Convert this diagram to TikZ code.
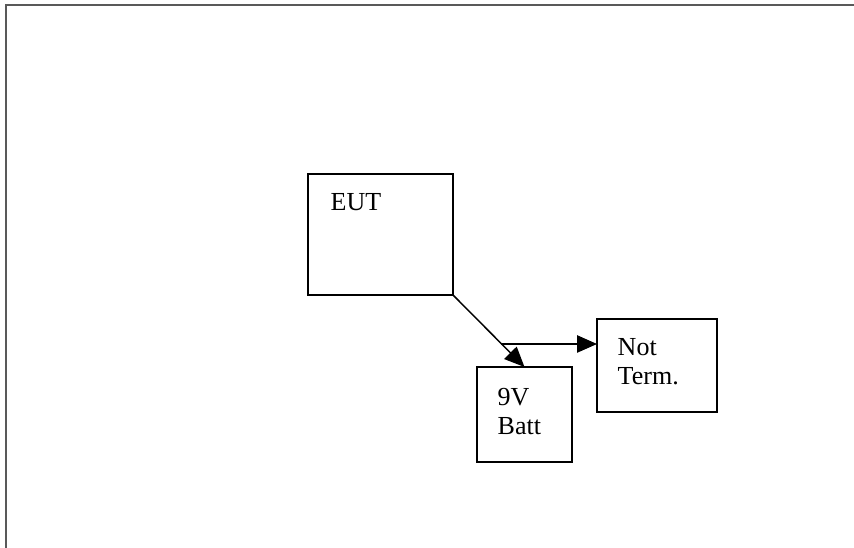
\documentclass[tikz,border=0pt]{standalone}
\usepackage{fontspec}
\setmainfont{Liberation Serif}
\usetikzlibrary{positioning}
\usetikzlibrary{arrows.meta}

\begin{document}
\begin{tikzpicture}[x=0.75pt,y=-0.75pt,line width=1.1pt,
  box/.style={draw,inner sep=0pt,outer sep=0pt},
  lbl/.style={anchor=base west,inner sep=0pt,align=left,font=\fontsize{19.5}{21.75}\selectfont},
  conn/.style={-{Triangle[length=15pt,width=13pt]}}]
 \useasboundingbox (0,0) rectangle (854,548);
 % page frame
 \draw[gray!70!black,line width=1.2pt](6,548)--(6,5)--(854,5);
 % boxes
 \node[box,minimum width=108.75pt,minimum height=90.75pt](eut) at (380.5,234.5) {};
 \node[box,minimum width=71.25pt,minimum height=71.25pt](batt) at (524.5,414.5) {};
 \node[box,minimum width=90pt,minimum height=69.75pt](nt) at (657,365.5) {};
 % labels (base = last line)
 \node[lbl](eutlbl) at (330,211) {EUT};
 \node[lbl](battlbl) at (497,435) {9V\\Batt};
 \node[lbl](ntlbl) at (617,385) {Not\\Term.};
 % connectors
 \draw[conn](eut.south east)--(batt.north);
 \coordinate (split) at (501,344);
 \draw[conn](split)--(split -| nt.west);
\end{tikzpicture}
\end{document}
